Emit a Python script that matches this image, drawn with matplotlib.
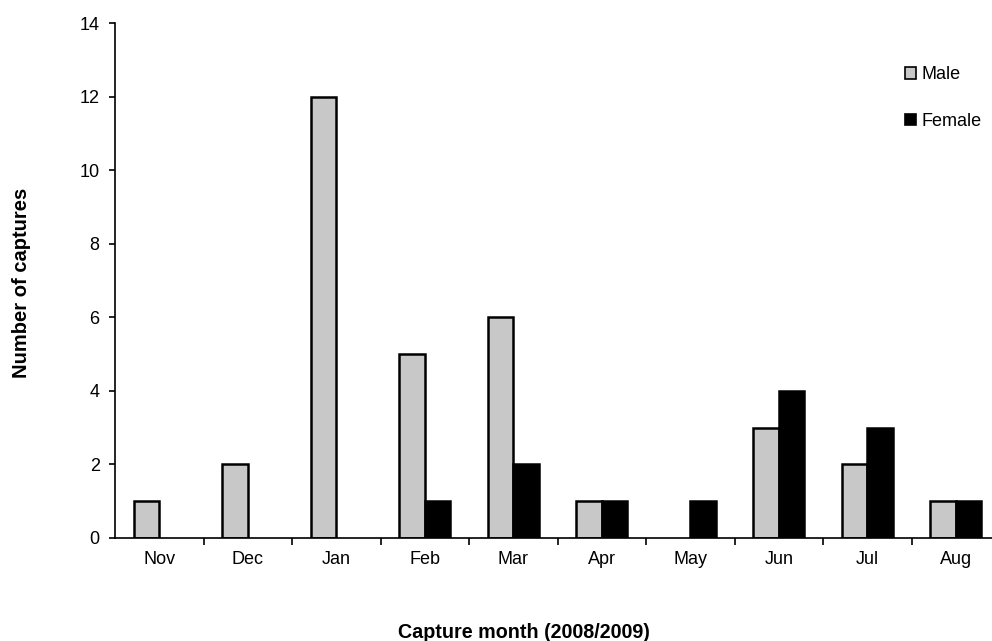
import numpy as np
import matplotlib
matplotlib.use('Agg')
import matplotlib.pyplot as plt
from matplotlib.patches import Patch

plt.rcParams['font.family'] = ['Liberation Sans', 'DejaVu Sans']
plt.rcParams['font.size'] = 13

months = ['Nov', 'Dec', 'Jan', 'Feb', 'Mar', 'Apr', 'May', 'Jun', 'Jul', 'Aug']
male = [1, 2, 12, 5, 6, 1, 0, 3, 2, 1]
female = [0, 0, 0, 1, 2, 1, 1, 4, 3, 1]

fig = plt.figure(figsize=(9.92, 6.41), dpi=100)
W, H = 992, 641
ax = fig.add_axes([115 / W, (H - 538) / H, 885 / W, (538 - 23) / H])

x = np.arange(len(months)) + 0.5
w = 0.29
m = np.array(male)
f = np.array(female)
# zero counts get no bar (no outline either)
ax.bar((x - w / 2)[m > 0], m[m > 0], w, color='#c8c8c8', edgecolor='black', linewidth=1.8)
ax.bar((x + w / 2)[f > 0], f[f > 0], w, color='black', edgecolor='black', linewidth=1.8)

ax.set_xlim(0, 10)
ax.set_ylim(0, 14)
ax.set_yticks(range(0, 15, 2))
ax.set_xticks(range(1, 10))
ax.set_xticklabels([])
ax.set_xticks(x, minor=True)
ax.set_xticklabels(months, minor=True)
ax.tick_params(axis='x', which='minor', length=0, pad=9)
ax.tick_params(axis='x', which='major', direction='out', length=5, width=1.2)
ax.tick_params(axis='y', direction='out', length=4, width=1.2, pad=7)
ax.tick_params(labelsize=13)
for s in ['top', 'right']:
    ax.spines[s].set_visible(False)
ax.spines['left'].set_linewidth(1.2)
ax.spines['bottom'].set_linewidth(1.2)

fig.text(22 / W, 1 - 283 / H, 'Number of captures', rotation=90,
         ha='center', va='center', fontweight='bold', fontsize=14.5)
fig.text(524 / W, 1 - 633 / H, 'Capture month (2008/2009)',
         ha='center', va='center', fontweight='bold', fontsize=14.2)

handles = [Patch(facecolor='#c8c8c8', edgecolor='black', linewidth=1.2),
           Patch(facecolor='black', edgecolor='black', linewidth=1.2)]
fig.legend(handles, ['Male', 'Female'], loc='upper left',
           bbox_to_anchor=(889 / W, 1 - 50 / H), frameon=False,
           handlelength=0.6, handleheight=0.6, handletextpad=0.3,
           labelspacing=1.65, fontsize=13)

fig.savefig('out.png', dpi=100)
